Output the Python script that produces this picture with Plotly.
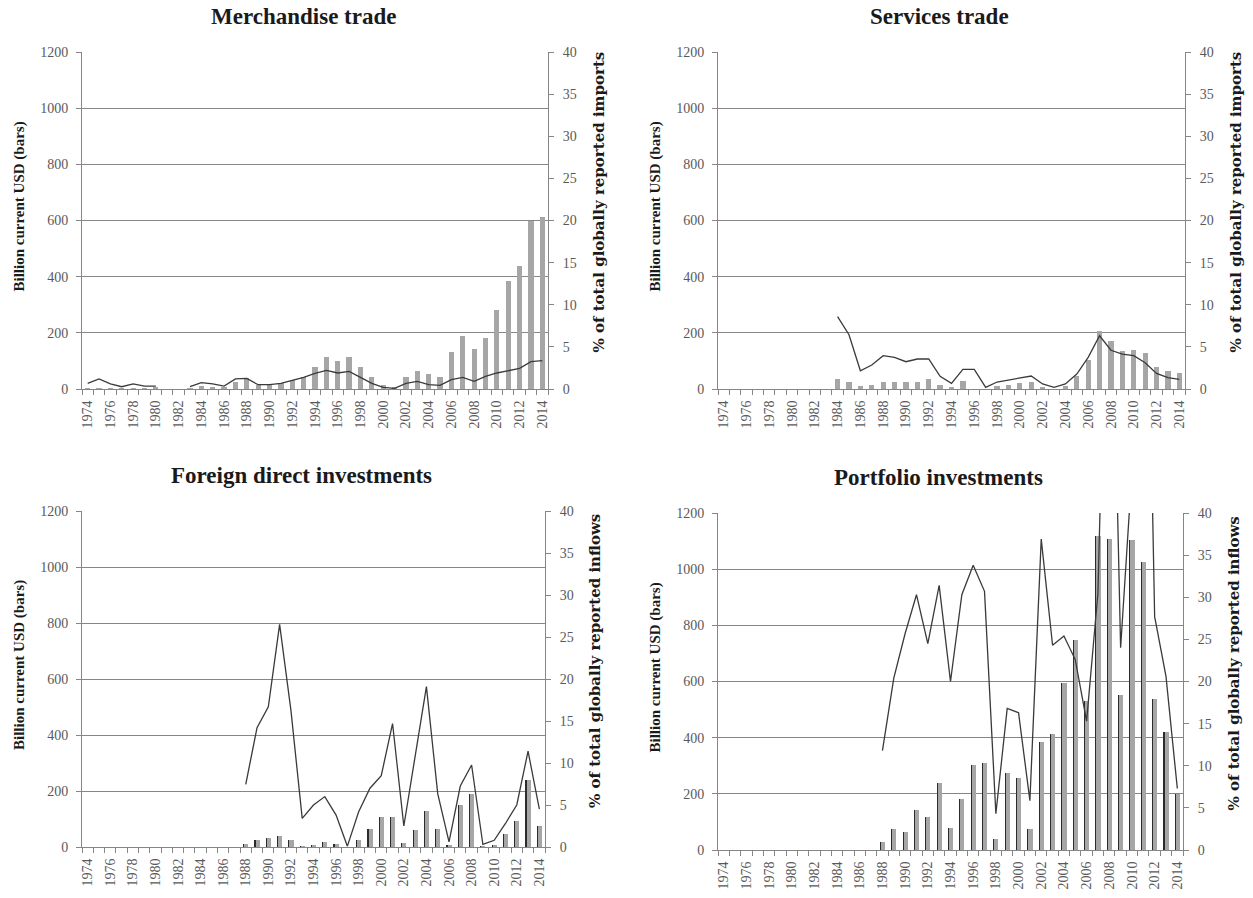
import plotly.graph_objects as go

years = list(range(1974, 2015))
tick_years = list(range(1974, 2015, 2))
tick_labels = [str(y) for y in tick_years]

N = None
merch_bars = [2, 3, 1, 1, 3, 2, 4, 0, 0, 2, 12, 8, 6, 26, 38, 15, 15, 20, 32, 44, 77,
              115, 101, 115, 79, 44, 15, 5, 44, 65, 55, 44, 133, 190, 144, 183, 282, 385, 439, 600, 613]
merch_pct = [0.67, 1.19, 0.6, 0.27, 0.6, 0.35, 0.35, N, N, 0.27, 0.75, 0.6, 0.35, 1.19, 1.26, 0.51, 0.51,
             0.67, 0.98, 1.38, 1.85, 2.2, 1.9, 2.1, 1.38, 0.67, 0.2, 0.08, 0.67, 0.9, 0.51, 0.43, 1.1,
             1.38, 0.9, 1.5, 1.9, 2.17, 2.45, 3.24, 3.36]

serv_bars = [N] * 10 + [37, 26, 12, 15, 24, 26, 26, 26, 37, 15, 5, 30, 0, 0, 12, 15, 21, 24, 8, 0, 12,
                        48, 105, 206, 172, 136, 140, 128, 79, 64, 58]
serv_pct = [N] * 10 + [8.6, 6.44, 2.17, 2.84, 3.95, 3.75, 3.24, 3.56, 3.56, 1.5, 0.67, 2.33, 2.33, 0.2,
                       0.83, 1.07, 1.3, 1.54, 0.6, 0.2, 0.6, 1.78, 3.75, 6.32, 4.6, 4.15, 3.95, 3.12,
                       1.85, 1.34, 1.14]

fdi_bars = [N] * 14 + [10, 25, 31, 38, 25, 2, 7, 17, 10, 0, 25, 63, 108, 108, 13, 61, 130, 66, 5, 150,
                       190, 3, 7, 48, 92, 240, 74]
fdi_pct = [N] * 14 + [7.46, 14.2, 16.7, 26.5, 16.3, 3.4, 5.0, 6.0, 3.8, 0.1, 4.2, 7.0, 8.5, 14.7, 2.5,
                      10.8, 19.1, 6.35, 0.6, 7.26, 9.76, 0.3, 0.8, 2.8, 5.0, 11.4, 4.5]

port_bars = [N] * 14 + [29, 74, 64, 141, 117, 237, 78, 182, 301, 311, 39, 275, 258, 74, 383, 412, 595,
                        749, 531, 1119, 1107, 552, 1104, 1025, 538, 420, 200]
port_pct = [N] * 14 + [11.8, 20.4, 25.7, 30.3, 24.5, 31.4, 20.0, 30.3, 33.8, 30.7, 4.3, 16.8, 16.3,
                       5.86, 36.9, 24.3, 25.4, 22.6, 15.3, 30.5, 84, 24.0, 45, 97, 27.7, 20.6, 7.3]

titles = ["Merchandise trade", "Services trade", "Foreign direct investments", "Portfolio investments"]
left_title = "Billion current USD (bars)"
right_titles = ["% of total globally reported imports", "% of total globally reported imports",
                "% of total globally reported inflows", "% of total globally reported inflows"]

W, H = 1253, 898
def px(x):
    return x / W
def py(y):
    return 1 - y / H

# panel geometry in pixels: (left, right, top(1200), bottom(0))
panels = [(82, 548, 52, 389), (718, 1185, 52, 389), (82, 545, 511, 847), (718, 1183, 513, 850)]
data = [(merch_bars, merch_pct), (serv_bars, serv_pct), (fdi_bars, fdi_pct), (port_bars, port_pct)]

SERIF = "Liberation Serif"
TICK_FONT = dict(family=SERIF, size=14, color="#595959")
AX = "#868686"
BAR = "#a6a6a6"

fig = go.Figure()
layout = {}
annotations = []
for i, ((l, r, t, b), (bars, pct)) in enumerate(zip(panels, data)):
    xa = "x" if i == 0 else f"x{i+1}"
    ya = "y" if i == 0 else f"y{2*i+1}"
    ya2 = f"y{2*i+2}"
    xkey = "xaxis" if i == 0 else f"xaxis{i+1}"
    ykey = "yaxis" if i == 0 else f"yaxis{2*i+1}"
    y2key = f"yaxis{2*i+2}"
    if i < 2:
        fig.add_trace(go.Bar(x=years, y=bars, width=0.46, marker=dict(color=BAR, line=dict(width=0)),
                             xaxis=xa, yaxis=ya, showlegend=False))
    else:
        fig.add_trace(go.Bar(x=years, y=bars, width=0.46, offset=-0.23,
                             marker=dict(color="#2b2b2b", line=dict(width=0)),
                             xaxis=xa, yaxis=ya, showlegend=False))
        fig.add_trace(go.Bar(x=years, y=bars, width=0.36, offset=-0.13,
                             marker=dict(color=BAR, line=dict(width=0)),
                             xaxis=xa, yaxis=ya, showlegend=False))
    fig.add_trace(go.Scatter(x=years, y=pct, mode="lines", line=dict(color="#3a3a3a", width=1.3),
                             connectgaps=False, xaxis=xa, yaxis=ya2, showlegend=False))
    layout[xkey] = dict(domain=[px(l), px(r)], anchor=ya, range=[1973.5, 2014.5],
                        tickmode="array", tickvals=tick_years, ticktext=tick_labels, tickangle=-90,
                        ticks="", showgrid=False, zeroline=False, showline=True, linecolor=AX,
                        linewidth=1, tickfont=TICK_FONT, automargin=False, ticklabelstandoff=5,
                        minor=dict(tickmode="linear", tick0=1973.5, dtick=1, ticks="outside",
                                   ticklen=5, tickcolor=AX, showgrid=False))
    layout[ykey] = dict(domain=[py(b), py(t)], anchor=xa, range=[0, 1200], tickmode="linear",
                        tick0=0, dtick=200, showgrid=True, gridcolor=AX, gridwidth=1,
                        zeroline=False, showline=True, linecolor=AX, ticks="outside", ticklen=5,
                        tickcolor=AX, tickfont=TICK_FONT, automargin=False, ticklabelstandoff=5)
    layout[y2key] = dict(overlaying=ya, anchor=xa, side="right", range=[0, 40], tickmode="linear",
                         tick0=0, dtick=5, showgrid=False, zeroline=False, showline=True,
                         linecolor=AX, ticks="outside", ticklen=5, tickcolor=AX, tickfont=TICK_FONT,
                         automargin=False, ticklabelstandoff=6)
    # panel title
    annotations.append(dict(text=f"<b>{titles[i]}</b>", x=px((l + r) / 2 - 12), y=py(t - 36),
                            xref="paper", yref="paper", showarrow=False, xanchor="center",
                            yanchor="middle", font=dict(family=SERIF, size=23, color="#1a1a1a")))
    # left axis title
    annotations.append(dict(text=f"<b>{left_title}</b>", x=px(l - 63), y=py((t + b) / 2 - 14),
                            xref="paper", yref="paper", showarrow=False, textangle=-90,
                            xanchor="center", yanchor="middle",
                            font=dict(family=SERIF, size=15, color="#1a1a1a")))
    # right axis title
    annotations.append(dict(text=f"<b>{right_titles[i]}</b>", x=px(r + 50), y=py((t + b) / 2 - 18),
                            xref="paper", yref="paper", showarrow=False, textangle=-90,
                            xanchor="center", yanchor="middle",
                            font=dict(family="DejaVu Serif", size=15, color="#1a1a1a")))

fig.update_layout(width=W, height=H, margin=dict(l=0, r=0, t=0, b=0), paper_bgcolor="white",
                  plot_bgcolor="white", barmode="overlay", bargap=0, showlegend=False,
                  annotations=annotations, **layout)
fig.write_html("out.html")
